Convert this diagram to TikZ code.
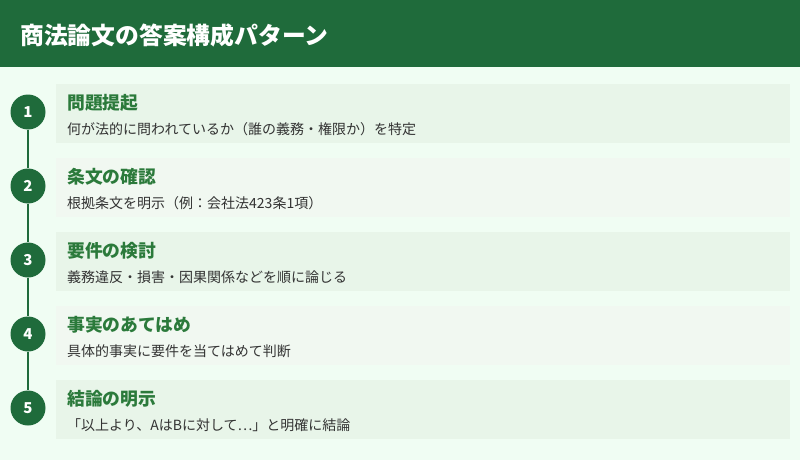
\documentclass[tikz,border=0pt]{standalone}
\usepackage{fontspec}
\setmainfont{Noto Sans CJK JP}
\usepackage{xcolor}
\usepackage{tikz}

\definecolor{headgreen}{HTML}{1F6B3B}
\definecolor{titlegreen}{HTML}{2B7A3B}
\definecolor{bgmint}{HTML}{F0FDF3}
\definecolor{boxodd}{HTML}{E8F5E9}
\definecolor{boxeven}{HTML}{F1F8F1}
\definecolor{desctext}{HTML}{333333}

\begin{document}
\begin{tikzpicture}[x=1pt, y=-1pt,
  stepnum/.style={circle, fill=headgreen, minimum size=35pt, inner sep=0pt,
    text=white, font=\bfseries\fontsize{15}{15}\selectfont},
  steptitle/.style={anchor=west, inner sep=0pt, text=titlegreen,
    font=\bfseries\fontsize{17.8}{17.8}\selectfont},
  stepdesc/.style={anchor=west, inner sep=0pt, text=desctext,
    font=\fontsize{14}{14}\selectfont},
  link/.style={headgreen, line width=2pt}]

\useasboundingbox (0,0) rectangle (800,460);
\fill[bgmint] (0,0) rectangle (800,460);

% Header
\fill[headgreen] (0,0) rectangle (800,67);
\node[anchor=west, inner sep=0pt, text=white, font=\bfseries\fontsize{23.8}{23.8}\selectfont]
  (head) at (20,35) {商法論文の答案構成パターン};

% Boxes
\fill[boxodd]  (56,84)  rectangle (790,143);
\fill[boxeven] (56,158) rectangle (790,217);
\fill[boxodd]  (56,232) rectangle (790,291);
\fill[boxeven] (56,306) rectangle (790,365);
\fill[boxodd]  (56,380) rectangle (790,439);

% Step 1
\node[stepnum] (n1) at (28,112) {1};
\node[steptitle] (t1) at (67,103) {問題提起};
\node[stepdesc] (d1) at (67,129) {何が法的に問われているか（誰の義務・権限か）を特定};

% Step 2
\node[stepnum] (n2) at (28,186) {2};
\node[steptitle] (t2) at (67,177) {条文の確認};
\node[stepdesc] (d2) at (67,203) {根拠条文を明示（例：会社法423条1項）};

% Step 3
\node[stepnum] (n3) at (28,260) {3};
\node[steptitle] (t3) at (67,251) {要件の検討};
\node[stepdesc] (d3) at (67,277) {義務違反・損害・因果関係などを順に論じる};

% Step 4
\node[stepnum] (n4) at (28,334) {4};
\node[steptitle] (t4) at (67,325) {事実のあてはめ};
\node[stepdesc] (d4) at (67,351) {具体的事実に要件を当てはめて判断};

% Step 5
\node[stepnum] (n5) at (28,408) {5};
\node[steptitle] (t5) at (67,399) {結論の明示};
\node[stepdesc] (d5) at (67,425) {「以上より、AはBに対して…」と明確に結論};

% Links
\draw[link] (n1) -- (n2);
\draw[link] (n2) -- (n3);
\draw[link] (n3) -- (n4);
\draw[link] (n4) -- (n5);

\end{tikzpicture}
\end{document}
